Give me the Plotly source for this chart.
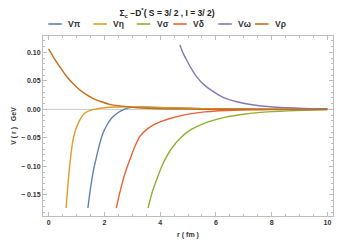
import plotly.graph_objects as go

# r (fm) and V(r) (GeV)
r_pi = [1.41, 1.47, 1.53, 1.62, 1.72, 1.83, 1.95, 2.10, 2.25, 2.40, 2.55, 2.75, 2.91, 3.20, 3.60, 4.20, 5.00, 6.00, 7.50, 10.0]
v_pi = [-0.173, -0.150, -0.130, -0.104, -0.083, -0.061, -0.042, -0.027, -0.016, -0.009, -0.004, 0.0008, 0.0030, 0.0040, 0.0038, 0.0030, 0.0018, 0.0009, 0.0003, 0.0]

r_eta = [0.63, 0.69, 0.755, 0.81, 0.875, 0.96, 1.06, 1.17, 1.29, 1.43, 1.59, 1.85, 2.19, 2.79, 3.40, 4.20, 5.00, 6.00, 8.00, 10.0]
v_eta = [-0.173, -0.134, -0.1007, -0.076, -0.054, -0.037, -0.0246, -0.0145, -0.007, -0.003, -0.0005, 0.0022, 0.0038, 0.0046, 0.0040, 0.0028, 0.0018, 0.0009, 0.0002, 0.0]

r_sigma = [3.57, 3.70, 3.87, 4.05, 4.23, 4.45, 4.71, 5.00, 5.31, 5.67, 6.03, 6.50, 7.00, 7.50, 8.00, 8.60, 9.20, 10.0]
v_sigma = [-0.173, -0.148, -0.124, -0.101, -0.083, -0.066, -0.051, -0.039, -0.0305, -0.023, -0.0175, -0.0122, -0.0085, -0.0058, -0.0040, -0.0026, -0.0017, -0.0010]

r_delta = [2.43, 2.55, 2.67, 2.79, 2.91, 3.08, 3.27, 3.50, 3.75, 4.05, 4.35, 4.75, 5.19, 5.60, 6.00, 6.60, 7.30, 8.00, 9.00, 10.0]
v_delta = [-0.173, -0.147, -0.124, -0.105, -0.089, -0.067, -0.048, -0.036, -0.0275, -0.021, -0.016, -0.011, -0.007, -0.0045, -0.0028, -0.0016, -0.0009, -0.0005, -0.0002, -0.0001]

r_omega = [4.71, 4.82, 4.95, 5.10, 5.31, 5.60, 5.91, 6.30, 6.75, 7.30, 7.95, 8.50, 9.15, 10.0]
v_omega = [0.113, 0.099, 0.0865, 0.073, 0.057, 0.042, 0.031, 0.020, 0.0134, 0.008, 0.0046, 0.003, 0.0017, 0.001]

r_rho = [0.0, 0.20, 0.40, 0.64, 0.99, 1.30, 1.59, 1.90, 2.19, 2.55, 3.00, 3.50, 4.00, 5.00, 6.00, 8.00, 10.0]
v_rho = [0.106, 0.0895, 0.0747, 0.058, 0.0397, 0.0275, 0.0193, 0.0133, 0.0088, 0.006, 0.0035, 0.002, 0.0011, 0.0004, 0.00015, 0.0, 0.0]

names = ["Vπ", "Vη", "Vσ", "Vδ", "Vω", "Vρ"]
colors = ["#5E81B5", "#E19C24", "#8FB032", "#EB6235", "#8778B3", "#C56E1A"]
rs = [r_pi, r_eta, r_sigma, r_delta, r_omega, r_rho]
vs = [v_pi, v_eta, v_sigma, v_delta, v_omega, v_rho]

y_ticks = [0.10, 0.05, 0.00, -0.05, -0.10, -0.15]
y_ticktext = ["0.10", "0.05", "0.00", "− 0.05", "− 0.10", "− 0.15"]

W, H = 338, 246
ML, MR, MT, MB = 43, 5, 36, 30
PW, PH = W - ML - MR, H - MT - MB

def px_x(px):
    return (px - ML) / PW

def px_y(py):
    return (H - MB - py) / PH

fig = go.Figure()
for name, r, v, c in zip(names, rs, vs, colors):
    fig.add_trace(go.Scatter(x=r, y=v, mode="lines", name=name, showlegend=False,
                             line=dict(color=c, width=1.4, shape="spline", smoothing=0.6)))

fig.add_hline(y=0, line=dict(color="#C8C8C8", width=1), layer="below")

# manual legend (row above the plot)
leg_line_x = [48.3, 93.3, 136.7, 173.3, 218.3, 255.0]
leg_y = 24
for name, c, lx in zip(names, colors, leg_line_x):
    fig.add_shape(type="line", xref="paper", yref="paper",
                  x0=px_x(lx), x1=px_x(lx + 13.5), y0=px_y(leg_y), y1=px_y(leg_y),
                  line=dict(color=c, width=1.6))
    fig.add_annotation(xref="paper", yref="paper", x=px_x(lx + 18), y=px_y(leg_y),
                       xanchor="left", yanchor="middle", showarrow=False, text="<b>%s</b>" % name,
                       font=dict(family="Liberation Sans", size=8.5, color="#333333"))

tickfont = dict(family="Liberation Sans", size=7, color="#333333", weight="bold")
frame = "#BDBDBD"

fig.update_layout(
    width=W, height=H,
    template="none",
    showlegend=False,
    margin=dict(l=ML, r=MR, t=MT, b=MB, autoexpand=False),
    paper_bgcolor="white", plot_bgcolor="white",
    title=dict(text="<b>Σ<sub>c</sub> −D<sup>*</sup>( S = 3/ 2 , I = 3/ 2)</b>",
               x=px_x(167), xref="paper", xanchor="center", y=1 - 13 / H, yref="container",
               yanchor="middle", font=dict(family="Liberation Sans", size=8.5, color="#222222")),
    xaxis=dict(range=[-0.2, 10.2], tickmode="linear", tick0=0, dtick=2, ticks="inside", ticklen=4,
               tickcolor=frame, showline=True, linecolor=frame, linewidth=1, mirror="allticks",
               showgrid=False, zeroline=False, tickfont=tickfont, automargin=False,
               ticklabeloverflow="allow",
               minor=dict(dtick=0.5, tick0=0, ticks="inside", ticklen=2, tickcolor=frame, showgrid=False),
               title=dict(text="<b>r ( fm )</b>", font=dict(family="Liberation Sans", size=7, color="#333333"),
                          standoff=6)),
    yaxis=dict(range=[-0.187, 0.1286], tickvals=y_ticks, ticktext=y_ticktext, ticks="inside", ticklen=4,
               tickcolor=frame, showline=True, linecolor=frame, linewidth=1, mirror="allticks",
               showgrid=False, zeroline=False, tickfont=tickfont, automargin=False,
               minor=dict(dtick=0.01, tick0=0, ticks="inside", ticklen=2, tickcolor=frame, showgrid=False),
               title=dict(text="<b>V ( r )   GeV</b>", font=dict(family="Liberation Sans", size=7, color="#333333"),
                          standoff=3)),
)

fig.write_html("out.html", config={"displayModeBar": False},
               post_script="document.body.style.margin='0';")
